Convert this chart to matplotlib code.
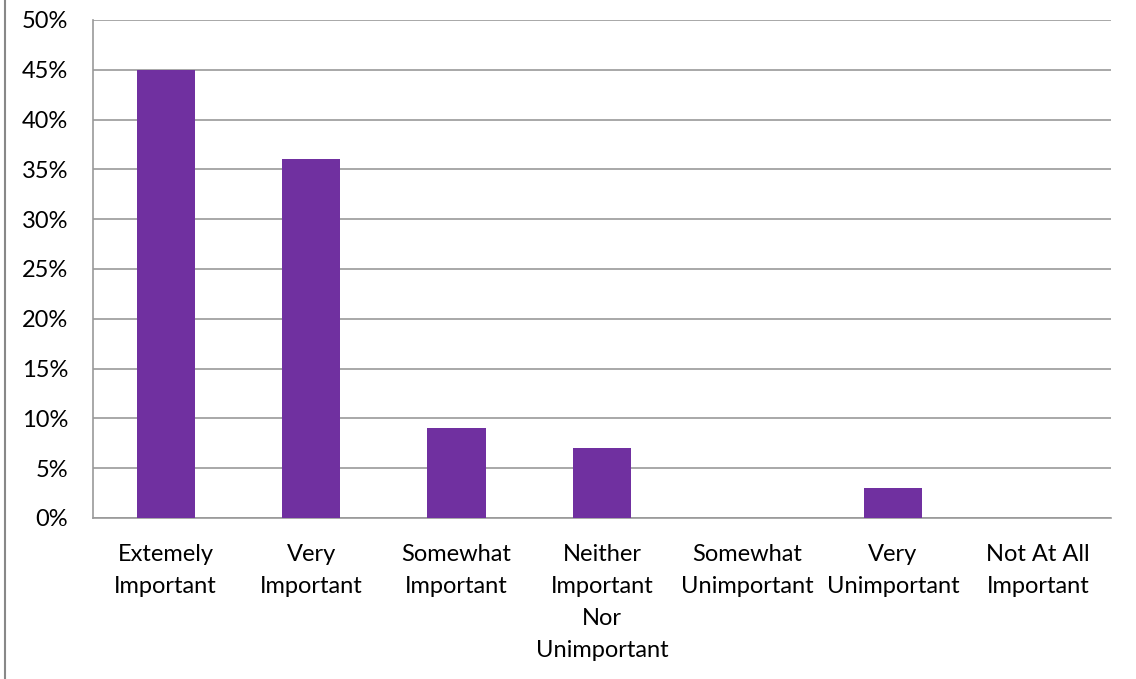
import matplotlib.pyplot as plt
from matplotlib.lines import Line2D
from matplotlib.ticker import PercentFormatter

# chart data
categories = ["Extemely\nImportant", "Very\nImportant", "Somewhat\nImportant",
              "Neither\nImportant\nNor\nUnimportant", "Somewhat\nUnimportant",
              "Very\nUnimportant", "Not At All\nImportant"]
values = [45, 36, 9, 7, 0, 3, 0]
y_ticks = [0, 5, 10, 15, 20, 25, 30, 35, 40, 45, 50]

plt.rcParams['font.family'] = ['Lato', 'DejaVu Sans']

fig = plt.figure(figsize=(11.36, 6.79), dpi=100)
ax = fig.add_axes([93 / 1136, 1 - 518 / 679, (1111 - 93) / 1136, (518 - 20) / 679])

x = range(len(categories))
ax.bar(x, values, width=0.4, color="#7030A0", zorder=3)

ax.set_xlim(-0.5, len(categories) - 0.5)
ax.set_ylim(0, 50)
ax.set_yticks(y_ticks)
ax.yaxis.set_major_formatter(PercentFormatter(decimals=0))
ax.set_xticks(list(x))
ax.set_xticklabels(categories, linespacing=1.63)
ax.tick_params(axis="both", length=0, labelsize=17, colors="black")
ax.tick_params(axis="y", pad=18)
ax.tick_params(axis="x", pad=19)
ax.grid(axis="y", color="#999999", linewidth=1.2, zorder=0)

for side in ["top", "right"]:
    ax.spines[side].set_visible(False)
for side in ["left", "bottom"]:
    ax.spines[side].set_color("#999999")
    ax.spines[side].set_linewidth(1.2)

# outer frame line on the left
fig.add_artist(Line2D([5 / 1136, 5 / 1136], [0, 1], color="#888888", linewidth=1.5))

fig.savefig("out.png", dpi=100)
